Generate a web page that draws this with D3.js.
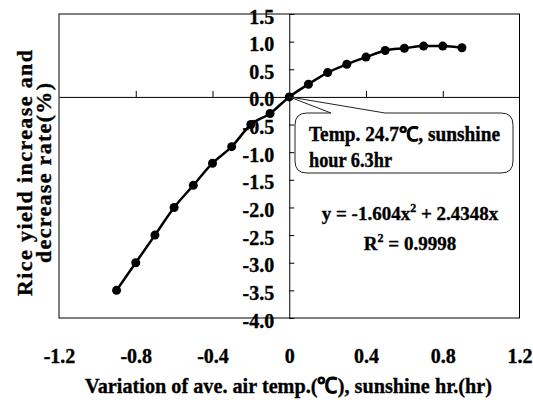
<!DOCTYPE html>
<html lang="en">

<head>
    <meta charset="UTF-8">
    <title>Rice yield vs temperature</title>
    <script src="https://d3js.org/d3.v7.min.js"></script>
    <style>
        body { margin: 0; background: #fff; }
        svg { display: block; }
        text { font-family: "Liberation Serif", "Times New Roman", serif; font-weight: bold; fill: #000; stroke: #000; stroke-width: 0.35px; }
    </style>
</head>

<body>
    <div id="chart"></div>
    <script>
        // values
        var xVals = [-0.9, -0.8, -0.7, -0.6, -0.5, -0.4, -0.3, -0.2, -0.1, 0, 0.1, 0.2, 0.3, 0.4, 0.5, 0.6, 0.7, 0.8, 0.9];
        var yieldRate = [-3.5, -3.0, -2.5, -2.0, -1.6, -1.2, -0.9, -0.5, -0.3, 0, 0.23, 0.44, 0.59, 0.72, 0.84, 0.88, 0.92, 0.92, 0.89];
        var yTicks = [1.5, 1.0, 0.5, 0.0, -0.5, -1.0, -1.5, -2.0, -2.5, -3.0, -3.5, -4.0];
        var xTicks = [-1.2, -0.8, -0.4, 0, 0.4, 0.8, 1.2];
        var xInnerTicks = [-0.8, -0.4, 0.4, 0.8];

        var W = 533, H = 403;
        var pLeft = 59, pRight = 519.5, pTop = 14, pBottom = 318;

        var svg = d3.select("#chart").append("svg").attr("width", W).attr("height", H);

        var x = d3.scaleLinear().domain([-1.2, 1.2]).range([pLeft, pRight]);
        var y = d3.scaleLinear().domain([-4, 1.5]).range([pBottom, pTop]);

        // plot frame
        svg.append("rect")
            .attr("x", pLeft).attr("y", pTop)
            .attr("width", pRight - pLeft).attr("height", pBottom - pTop)
            .attr("fill", "none").attr("stroke", "#000").attr("stroke-width", 1);

        // zero line with small ticks pointing up
        var xAxisG = svg.append("g")
            .attr("transform", "translate(0," + y(0) + ")")
            .call(d3.axisTop(x).tickValues(xInnerTicks).tickSize(6).tickSizeOuter(0).tickFormat(""));
        xAxisG.select(".domain").attr("stroke-width", 1);

        // x tick labels under the frame
        var xLab = svg.append("g")
            .attr("transform", "translate(0," + pBottom + ")")
            .call(d3.axisBottom(x).tickValues(xTicks).tickSize(0).tickPadding(0)
                .tickFormat(function (d) { return d === 0 ? "0" : d.toFixed(1); }));
        xLab.select(".domain").remove();
        xLab.selectAll("text")
            .attr("y", 45).attr("dy", null)
            .style("font-size", "20px").style("font-family", null);

        // vertical axis through x = 0, ticks to the right, labels to the left
        var yAxisG = svg.append("g")
            .attr("transform", "translate(" + x(0) + ",0)")
            .call(d3.axisLeft(y).tickValues(yTicks).tickSizeInner(-5).tickSizeOuter(0).tickPadding(15)
                .tickFormat(function (d) { return d.toFixed(1); }));
        yAxisG.selectAll("text")
            .attr("dy", "0.45em")
            .style("font-size", "20px").style("font-family", null);

        // data line
        var line = d3.line()
            .x(function (d, i) { return x(xVals[i]); })
            .y(function (d) { return y(d); })
            .curve(d3.curveMonotoneX);

        svg.append("path")
            .datum(yieldRate)
            .attr("d", line)
            .attr("fill", "none").attr("stroke", "#000").attr("stroke-width", 2.5);

        svg.selectAll("circle.pt")
            .data(yieldRate)
            .enter()
            .append("circle")
            .attr("class", "pt")
            .attr("cx", function (d, i) { return x(xVals[i]); })
            .attr("cy", function (d) { return y(d); })
            .attr("r", 4.5)
            .attr("fill", "#000");

        // callout box pointing at the origin
        var tx = x(0), ty = y(0);
        var bx0 = 295, bx1 = 513, by0 = 113, by1 = 173, r = 12;
        var callout = "M331," + by0 + " L" + tx + "," + ty + " L385," + by0 +
            " L" + (bx1 - r) + "," + by0 + " Q" + bx1 + "," + by0 + " " + bx1 + "," + (by0 + r) +
            " L" + bx1 + "," + (by1 - r) + " Q" + bx1 + "," + by1 + " " + (bx1 - r) + "," + by1 +
            " L" + (bx0 + r) + "," + by1 + " Q" + bx0 + "," + by1 + " " + bx0 + "," + (by1 - r) +
            " L" + bx0 + "," + (by0 + r) + " Q" + bx0 + "," + by0 + " " + (bx0 + r) + "," + by0 + " Z";
        svg.append("path")
            .attr("d", callout)
            .attr("fill", "#fff").attr("stroke", "#222").attr("stroke-width", 1);

        svg.append("text").attr("x", 309).attr("y", 141).style("font-size", "20px")
            .attr("textLength", 191).attr("lengthAdjust", "spacingAndGlyphs")
            .text("Temp. 24.7℃, sunshine");
        svg.append("text").attr("x", 309).attr("y", 167).style("font-size", "20px")
            .attr("textLength", 83).attr("lengthAdjust", "spacingAndGlyphs")
            .text("hour 6.3hr");

        // regression equation
        var eq = svg.append("text").attr("x", 410).attr("y", 220)
            .attr("text-anchor", "middle").style("font-size", "19px");
        eq.append("tspan").text("y = -1.604x");
        eq.append("tspan").attr("dy", -8).style("font-size", "12px").text("2");
        eq.append("tspan").attr("dy", 8).text(" + 2.4348x");

        var r2 = svg.append("text").attr("x", 410).attr("y", 250)
            .attr("text-anchor", "middle").style("font-size", "19px");
        r2.append("tspan").text("R");
        r2.append("tspan").attr("dy", -8).style("font-size", "12px").text("2");
        r2.append("tspan").attr("dy", 8).text(" = 0.9998");

        // axis titles
        svg.append("text")
            .attr("x", 288.5).attr("y", 393)
            .attr("text-anchor", "middle").style("font-size", "22px")
            .attr("textLength", 407).attr("lengthAdjust", "spacingAndGlyphs")
            .text("Variation of ave. air temp.(℃), sunshine hr.(hr)");

        var yTitle = svg.append("g").attr("transform", "translate(32,173) rotate(-90)");
        yTitle.append("text")
            .attr("x", 0).attr("y", 0)
            .attr("text-anchor", "middle").style("font-size", "22px")
            .attr("textLength", 246).attr("lengthAdjust", "spacing")
            .text("Rice yield increase and");
        yTitle.append("text")
            .attr("x", 0).attr("y", 19)
            .attr("text-anchor", "middle").style("font-size", "22px")
            .attr("textLength", 180).attr("lengthAdjust", "spacing")
            .text("decrease rate(%)");
    </script>
</body>

</html>
